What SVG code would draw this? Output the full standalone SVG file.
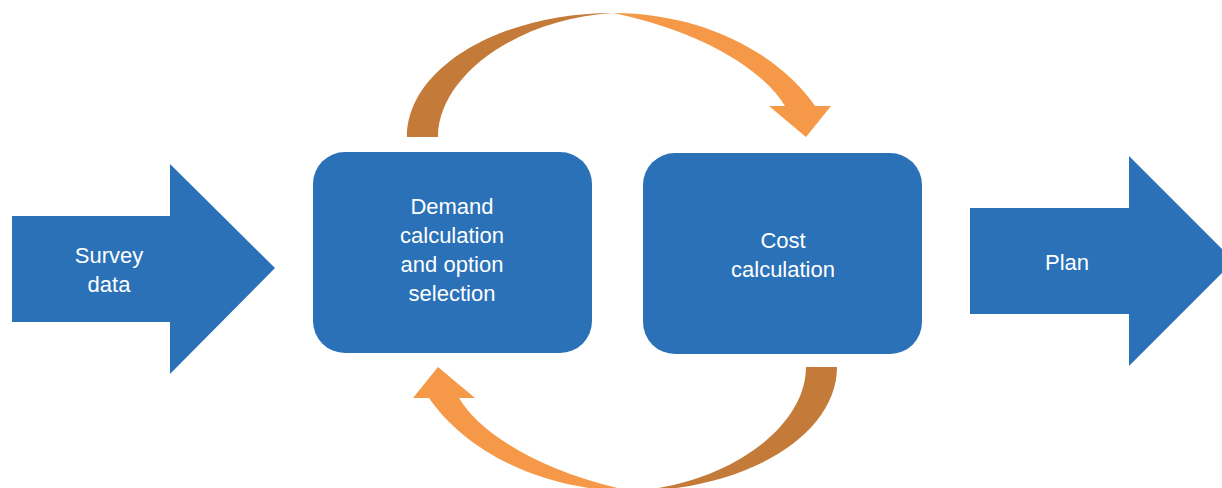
<svg xmlns="http://www.w3.org/2000/svg" width="1222" height="488" viewBox="0 0 1222 488">
<style>
.blue{fill:#2A71B8}
.dark{fill:#C47A38}
.light{fill:#F59847}
text{font-family:"Liberation Sans",Arial,sans-serif;font-size:22px;fill:#FFFFFF;text-anchor:middle}
</style>
<defs>
<g id="loop">
<path class="dark" d="M407,137 C407,68 500,13 613,13 C520,18 438,75 438,137 Z"/>
<path class="light" d="M613,13 C705,13 780,55 815,106 L831,106 L806,137 L769,106 L785,106 C765,72 705,32 613,13 Z"/>
</g>
</defs>
<rect width="1222" height="488" fill="#FFFFFF"/>
<g id="connectors">
<use href="#loop"/>
<use href="#loop" transform="rotate(180 622 252)"/>
</g>
<g id="survey">
<polygon class="blue" points="12,216 170,216 170,164 275,268 170,374 170,322 12,322"/>
<text x="109" y="263">Survey</text>
<text x="109" y="292">data</text>
</g>
<g id="demand">
<rect class="blue" x="313" y="152" width="279" height="201" rx="32"/>
<text x="452" y="214">Demand</text>
<text x="452" y="243">calculation</text>
<text x="452" y="272">and option</text>
<text x="452" y="301">selection</text>
</g>
<g id="cost">
<rect class="blue" x="643" y="153" width="279" height="201" rx="32"/>
<text x="783" y="248">Cost</text>
<text x="783" y="277">calculation</text>
</g>
<g id="plan">
<polygon class="blue" points="970,208 1129,208 1129,156 1234,261 1129,366 1129,314 970,314"/>
<text x="1067" y="270">Plan</text>
</g>
</svg>
